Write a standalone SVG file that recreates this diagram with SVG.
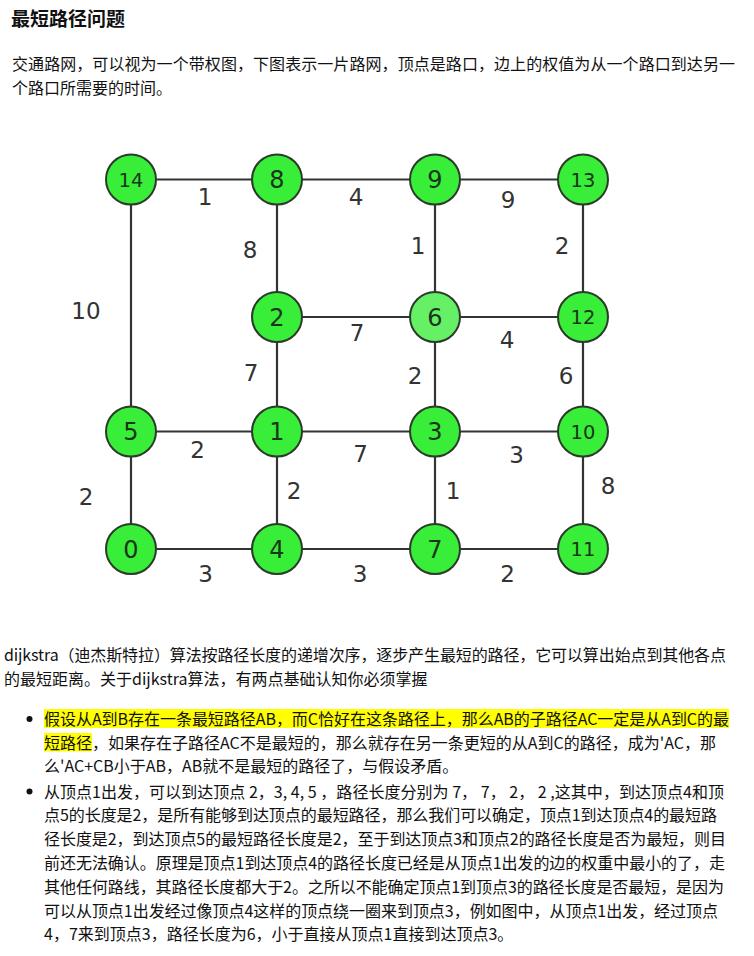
<svg xmlns="http://www.w3.org/2000/svg" width="754" height="956" viewBox="0 0 754 956">
<style>
.t{font-family:"Noto Sans CJK SC","Microsoft YaHei",sans-serif;font-size:16px;fill:#111}
.h{font-family:"Noto Sans CJK SC","Microsoft YaHei",sans-serif;font-size:19px;font-weight:bold;fill:#111}
.e{stroke:#333;stroke-width:2.2;fill:none}
.n circle{fill:#38ee38;stroke:#2b3a2b;stroke-width:2}
.n.l circle{fill:#66f066}
.n text{font-family:"DejaVu Sans",sans-serif;fill:#1a361a;text-anchor:middle}
.big{font-size:24px}
.sm{font-size:19.5px}
.w{font-family:"DejaVu Sans",sans-serif;font-size:23px;fill:#333;text-anchor:middle}
.hl{fill:#ffff00}
</style>
<rect width="754" height="956" fill="#fff"/>

<text class="h" x="11" y="25.5">最短路径问题</text>
<text class="t" x="12" y="70" textLength="723" lengthAdjust="spacing">交通路网，可以视为一个带权图，下图表示一片路网，顶点是路口，边上的权值为从一个路口到达另一</text>
<text class="t" x="12" y="94">个路口所需要的时间。</text>

<g id="connectors">
<line class="e" x1="131" y1="179.5" x2="583" y2="179.5"/>
<line class="e" x1="277" y1="317" x2="583" y2="317"/>
<line class="e" x1="131" y1="431.5" x2="583" y2="431.5"/>
<line class="e" x1="131" y1="549" x2="583" y2="549"/>
<line class="e" x1="131" y1="179.5" x2="131" y2="549"/>
<line class="e" x1="277" y1="179.5" x2="277" y2="549"/>
<line class="e" x1="435" y1="179.5" x2="435" y2="549"/>
<line class="e" x1="583" y1="179.5" x2="583" y2="549"/>
</g>

<g id="weights">
<text class="w" x="205" y="205">1</text>
<text class="w" x="356" y="205">4</text>
<text class="w" x="508" y="207.5">9</text>
<text class="w" x="250" y="258">8</text>
<text class="w" x="418" y="254">1</text>
<text class="w" x="562" y="254">2</text>
<text class="w" x="86" y="319">10</text>
<text class="w" x="357" y="341">7</text>
<text class="w" x="507" y="347.5">4</text>
<text class="w" x="251" y="381">7</text>
<text class="w" x="415" y="384">2</text>
<text class="w" x="566" y="384">6</text>
<text class="w" x="197.5" y="458">2</text>
<text class="w" x="360.5" y="462">7</text>
<text class="w" x="516.5" y="463">3</text>
<text class="w" x="86" y="505">2</text>
<text class="w" x="294" y="499">2</text>
<text class="w" x="453" y="499">1</text>
<text class="w" x="608" y="494">8</text>
<text class="w" x="205.5" y="581.5">3</text>
<text class="w" x="360" y="581.5">3</text>
<text class="w" x="507.5" y="581.5">2</text>
</g>

<g id="node14" class="n"><circle cx="131" cy="179.5" r="25"/><text class="sm" x="131" y="186.7">14</text></g>
<g id="node8" class="n"><circle cx="277" cy="179.5" r="25"/><text class="big" x="277" y="188.3">8</text></g>
<g id="node9" class="n"><circle cx="435" cy="179.5" r="25"/><text class="big" x="435" y="188.3">9</text></g>
<g id="node13" class="n"><circle cx="583" cy="179.5" r="25"/><text class="sm" x="583" y="186.7">13</text></g>
<g id="node2" class="n"><circle cx="277" cy="317" r="25"/><text class="big" x="277" y="325.8">2</text></g>
<g id="node6" class="n l"><circle cx="435" cy="317" r="25"/><text class="big" x="435" y="325.8">6</text></g>
<g id="node12" class="n"><circle cx="583" cy="317" r="25"/><text class="sm" x="583" y="324.2">12</text></g>
<g id="node5" class="n"><circle cx="131" cy="431.5" r="25"/><text class="big" x="131" y="440.3">5</text></g>
<g id="node1" class="n"><circle cx="277" cy="431.5" r="25"/><text class="big" x="277" y="440.3">1</text></g>
<g id="node3" class="n"><circle cx="435" cy="431.5" r="25"/><text class="big" x="435" y="440.3">3</text></g>
<g id="node10" class="n"><circle cx="583" cy="431.5" r="25"/><text class="sm" x="583" y="438.7">10</text></g>
<g id="node0" class="n"><circle cx="131" cy="549" r="25"/><text class="big" x="131" y="557.8">0</text></g>
<g id="node4" class="n"><circle cx="277" cy="549" r="25"/><text class="big" x="277" y="557.8">4</text></g>
<g id="node7" class="n"><circle cx="435" cy="549" r="25"/><text class="big" x="435" y="557.8">7</text></g>
<g id="node11" class="n"><circle cx="583" cy="549" r="25"/><text class="sm" x="583" y="556.2">11</text></g>

<text class="t" x="4" y="661" textLength="722" lengthAdjust="spacing">dijkstra（迪杰斯特拉）算法按路径长度的递增次序，逐步产生最短的路径，它可以算出始点到其他各点</text>
<text class="t" x="4" y="684.5">的最短距离。关于dijkstra算法，有两点基础认知你必须掌握</text>

<rect class="hl" x="44" y="709" width="685" height="19"/>
<rect class="hl" x="44" y="733" width="48" height="18.5"/>
<circle cx="29.5" cy="719" r="3" fill="#111"/>
<circle cx="29.5" cy="791.5" r="3" fill="#111"/>
<text class="t" x="44" y="725" textLength="685" lengthAdjust="spacing">假设从A到B存在一条最短路径AB，而C恰好在这条路径上，那么AB的子路径AC一定是从A到C的最</text>
<text class="t" x="44" y="748.5" textLength="672" lengthAdjust="spacing">短路径，如果存在子路径AC不是最短的，那么就存在另一条更短的从A到C的路径，成为'AC，那</text>
<text class="t" x="44" y="772">么'AC+CB小于AB，AB就不是最短的路径了，与假设矛盾。</text>
<text class="t" x="44" y="797.5" textLength="680" lengthAdjust="spacing">从顶点1出发，可以到达顶点 2，3, 4, 5 ，路径长度分别为 7， 7， 2， 2 ,这其中，到达顶点4和顶</text>
<text class="t" x="44" y="821" textLength="673" lengthAdjust="spacing">点5的长度是2，是所有能够到达顶点的最短路径，那么我们可以确定，顶点1到达顶点4的最短路</text>
<text class="t" x="44" y="845.2" textLength="682" lengthAdjust="spacing">径长度是2，到达顶点5的最短路径长度是2，至于到达顶点3和顶点2的路径长度是否为最短，则目</text>
<text class="t" x="44" y="869.2" textLength="681" lengthAdjust="spacing">前还无法确认。原理是顶点1到达顶点4的路径长度已经是从顶点1出发的边的权重中最小的了，走</text>
<text class="t" x="44" y="892.8" textLength="680" lengthAdjust="spacing">其他任何路线，其路径长度都大于2。之所以不能确定顶点1到顶点3的路径长度是否最短，是因为</text>
<text class="t" x="44" y="916.6" textLength="674" lengthAdjust="spacing">可以从顶点1出发经过像顶点4这样的顶点绕一圈来到顶点3，例如图中，从顶点1出发，经过顶点</text>
<text class="t" x="44" y="940">4，7来到顶点3，路径长度为6，小于直接从顶点1直接到达顶点3。</text>
</svg>
